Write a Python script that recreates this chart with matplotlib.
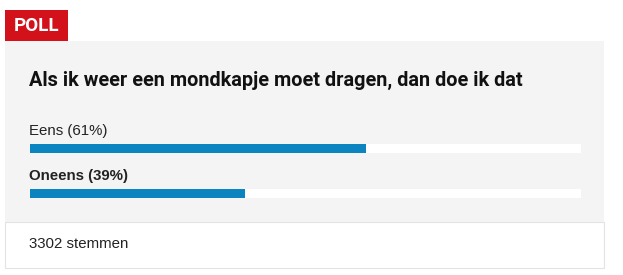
import matplotlib.pyplot as plt
from matplotlib.patches import Rectangle

question = "Als ik weer een mondkapje moet dragen, dan doe ik dat"
options = ["Eens", "Oneens"]
percents = [61, 39]
votes = 3302

W, H = 623, 275
fig = plt.figure(figsize=(W / 100, H / 100), dpi=100)
fig.patch.set_facecolor("white")

# background layer in pixel coordinates
bg = fig.add_axes([0, 0, 1, 1])
bg.set_xlim(0, W)
bg.set_ylim(H, 0)
bg.axis("off")

bg.add_patch(Rectangle((5, 41), 599, 181, facecolor="#f4f4f4", edgecolor="none"))
bg.add_patch(Rectangle((5, 222), 599, 46, facecolor="white", edgecolor="#e3e3e3", lw=0.8))
bg.add_patch(Rectangle((5, 10), 63, 31, facecolor="#d3111a", edgecolor="none"))

head_font = ["Roboto", "DejaVu Sans"]
bg.text(36.5, 26, "POLL", color="white", fontsize=13.5, fontweight="bold",
        family=head_font, va="center", ha="center")

bg.text(29, 80, question, fontsize=14.3, fontweight="bold", family=head_font,
        va="center", ha="left", color="#111111")

bar_y = [148, 193]
label_y = [131, 176]
for i, (name, p) in enumerate(zip(options, percents)):
    bg.text(29, label_y[i], f"{name} ({p}%)", fontsize=10.8,
            family="Liberation Sans", fontweight="bold" if i == 1 else "normal",
            va="center", ha="left", color="#222222")

bg.text(29, 244, f"{votes} stemmen", fontsize=10.8, family="Liberation Sans",
        va="center", ha="left", color="#222222")

# bars on their own axes spanning the track
x0, x1 = 29.5, 581
ax = fig.add_axes([x0 / W, 0, (x1 - x0) / W, 1])
ax.set_xlim(0, 100)
ax.set_ylim(H, 0)
ax.axis("off")
ax.barh(bar_y, [100] * len(options), height=9, color="white", left=0)
ax.barh(bar_y, percents, height=9, color="#0b84bf", left=0)

fig.savefig("out.png", dpi=100)
